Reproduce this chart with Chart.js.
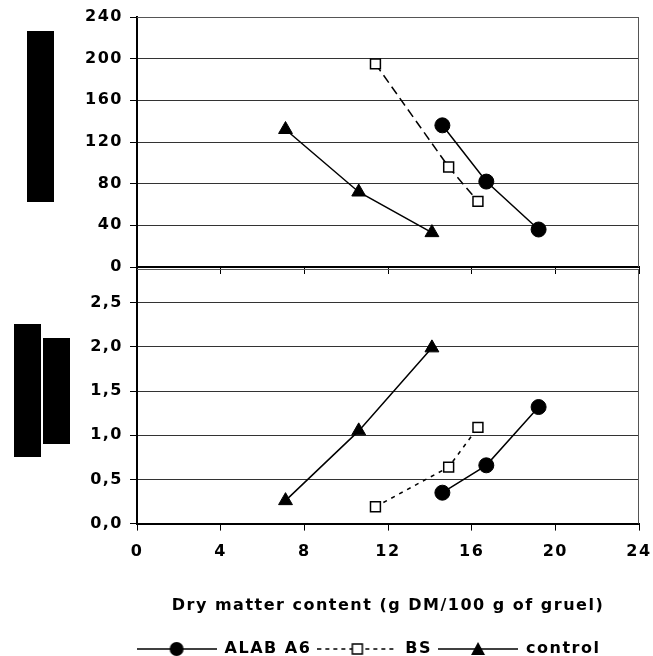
<!DOCTYPE html>
<html><head><meta charset="utf-8">
<script src="https://cdn.jsdelivr.net/npm/chart.js@4/dist/chart.umd.min.js"></script>
<style>
html,body{margin:0;padding:0;background:#fff;}
#wrap{position:relative;width:653px;height:656px;overflow:hidden;}
canvas{position:absolute;left:0;}
#c1{top:0;}
#c2{top:260px;}
</style></head>
<body><div id="wrap">
<canvas id="c1" width="653" height="276"></canvas>
<canvas id="c2" width="653" height="407"></canvas>
</div>
<script>
// ---- data ----
const seriesNames = ['ALAB A6', 'BS', 'control'];
const alabX = [14.6, 16.7, 19.2];
const bsX = [11.4, 14.9, 16.3];
const controlX = [7.1, 10.6, 14.1];
const alabTop = [136, 82, 36];
const bsTop = [195, 96, 63];
const controlTop = [132, 72, 33];
const alabBottom = [0.35, 0.66, 1.32];
const bsBottom = [0.19, 0.64, 1.09];
const controlBottom = [0.26, 1.05, 1.99];
const xTicks = [0, 4, 8, 12, 16, 20, 24];
const yTopTicks = [0, 40, 80, 120, 160, 200, 240];
const yBottomTicks = [0, 0.5, 1.0, 1.5, 2.0, 2.5];
const xTitle = 'Dry matter content (g DM/100 g of gruel)';

const FONT = '"DejaVu Sans", "Liberation Sans", Arial, sans-serif';
const pts = (xs, ys) => xs.map((x, i) => ({x, y: ys[i]}));

function makeDatasets(a, b, c, bsDash) {
  return [
    {label: seriesNames[0], data: pts(alabX, a), showLine: true, borderColor: '#000', borderWidth: 1.5,
     pointStyle: 'circle', pointRadius: 7.5, pointBackgroundColor: '#000', pointBorderColor: '#000', pointBorderWidth: 1},
    {label: seriesNames[1], data: pts(bsX, b), showLine: true, borderColor: '#000', borderWidth: 1.5, borderDash: bsDash,
     pointStyle: 'rect', pointRadius: 7, pointBackgroundColor: '#fff', pointBorderColor: '#000', pointBorderWidth: 1.5},
    {label: seriesNames[2], data: pts(controlX, c), showLine: true, borderColor: '#000', borderWidth: 1.5,
     pointStyle: 'triangle', pointRadius: 8, pointBackgroundColor: '#000', pointBorderColor: '#000', pointBorderWidth: 1}
  ];
}

const spacing = {
  id: 'spacing',
  beforeUpdate(chart) { chart.ctx.letterSpacing = '1.5px'; },
  beforeDraw(chart) { chart.ctx.letterSpacing = '1.5px'; }
};
const frame = {
  id: 'frame',
  beforeDatasetsDraw(chart) {
    const {ctx, chartArea: a} = chart;
    ctx.save();
    ctx.strokeStyle = '#555'; ctx.lineWidth = 1;
    ctx.beginPath();
    ctx.moveTo(a.left, a.top + 0.5); ctx.lineTo(a.right, a.top + 0.5);
    ctx.moveTo(a.right - 0.5, a.top); ctx.lineTo(a.right - 0.5, a.bottom);
    ctx.stroke();
    ctx.restore();
  }
};
const blocks = {
  id: 'blocks',
  afterDraw(chart, args, opts) {
    const ctx = chart.ctx;
    ctx.save(); ctx.fillStyle = '#000';
    (opts.rects || []).forEach(r => ctx.fillRect(r[0], r[1], r[2], r[3]));
    ctx.restore();
  }
};
const legendShift = {
  id: 'legendShift',
  afterLayout(chart, args, opts) {
    const l = chart.legend;
    if (l) { l.left += opts.dx || 0; l.right += opts.dx || 0; }
  }
};

const noPad = s => { s.paddingLeft = 0; s.paddingRight = 0; s.paddingTop = 0; s.paddingBottom = 0; };

function yScale(ticksArr, max, fmt) {
  return {
    type: 'linear', min: 0, max: max,
    afterFit: s => { s.width = 137; noPad(s); },
    afterBuildTicks: s => { s.ticks = ticksArr.map(v => ({value: v})); },
    ticks: {font: {family: FONT, size: 16, weight: 'bold'}, color: '#000', padding: 7, callback: fmt},
    grid: {color: '#333', lineWidth: 1, drawTicks: true, tickLength: 7, tickColor: '#000', tickWidth: 1},
    border: {display: true, color: '#000', width: 2}
  };
}

// top panel
new Chart(document.getElementById('c1'), {
  type: 'scatter',
  data: {datasets: makeDatasets(alabTop, bsTop, controlTop, [9, 5])},
  options: {
    responsive: false, animation: false,
    layout: {padding: {top: 17, right: 14, left: 0, bottom: 0}},
    plugins: {legend: {display: false}, tooltip: {enabled: false},
      blocks: {rects: [[27, 31, 27, 171]]}},
    scales: {
      x: {type: 'linear', min: 0, max: 24,
        afterFit: s => { s.height = 8; noPad(s); },
        afterBuildTicks: s => { s.ticks = xTicks.map(v => ({value: v})); },
        ticks: {display: false},
        grid: {display: true, drawOnChartArea: false, drawTicks: true, tickLength: 7, tickColor: '#000'},
        border: {display: true, color: '#000', width: 2}},
      y: yScale(yTopTicks, 240, v => String(v))
    }
  },
  plugins: [spacing, frame, blocks]
});

// legend icons
function legendIcon(kind) {
  const c = document.createElement('canvas');
  c.width = 80; c.height = 16;
  const g = c.getContext('2d');
  g.strokeStyle = '#000'; g.lineWidth = 1.5;
  if (kind === 1) g.setLineDash([4, 4]);
  g.beginPath(); g.moveTo(0, 8); g.lineTo(80, 8); g.stroke();
  g.setLineDash([]);
  if (kind === 0) { g.fillStyle = '#000'; g.beginPath(); g.arc(40, 8, 7, 0, Math.PI * 2); g.fill(); }
  if (kind === 1) { g.fillStyle = '#fff'; g.fillRect(35, 3, 10, 10); g.strokeRect(35, 3, 10, 10); }
  if (kind === 2) { g.fillStyle = '#000'; g.beginPath(); g.moveTo(40, 1); g.lineTo(47, 14); g.lineTo(33, 14); g.closePath(); g.fill(); }
  return c;
}
const icons = [legendIcon(0), legendIcon(1), legendIcon(2)];

// bottom panel
new Chart(document.getElementById('c2'), {
  type: 'scatter',
  data: {datasets: makeDatasets(alabBottom, bsBottom, controlBottom, [4, 5])},
  options: {
    responsive: false, animation: false,
    layout: {padding: {top: 7, right: 14, left: 0, bottom: 0}},
    plugins: {
      tooltip: {enabled: false},
      blocks: {rects: [[14, 64, 27, 133], [43, 78, 27, 106]]},
      legendShift: {dx: 49},
      legend: {display: true, position: 'bottom',
        labels: {usePointStyle: true, pointStyleWidth: 80, padding: 6, color: '#000',
          font: {family: FONT, size: 16, weight: 'bold'},
          generateLabels: chart => chart.data.datasets.map((d, i) => ({
            text: d.label, pointStyle: icons[i], datasetIndex: i, lineWidth: 0,
            fillStyle: '#000', strokeStyle: '#000', fontColor: '#000', hidden: false}))}}
    },
    scales: {
      x: {type: 'linear', min: 0, max: 24,
        afterFit: s => noPad(s),
        afterBuildTicks: s => { s.ticks = xTicks.map(v => ({value: v})); },
        ticks: {font: {family: FONT, size: 16, weight: 'bold'}, color: '#000', padding: 12, maxRotation: 0},
        grid: {display: true, drawOnChartArea: false, drawTicks: true, tickLength: 7, tickColor: '#000'},
        border: {display: true, color: '#000', width: 2},
        title: {display: true, text: xTitle, color: '#000', font: {family: FONT, size: 16, weight: 'bold'},
          padding: {top: 22, bottom: 20}}},
      y: yScale(yBottomTicks, 2.883, v => v.toFixed(1).replace('.', ','))
    }
  },
  plugins: [spacing, frame, blocks, legendShift]
});
</script>
</body></html>
